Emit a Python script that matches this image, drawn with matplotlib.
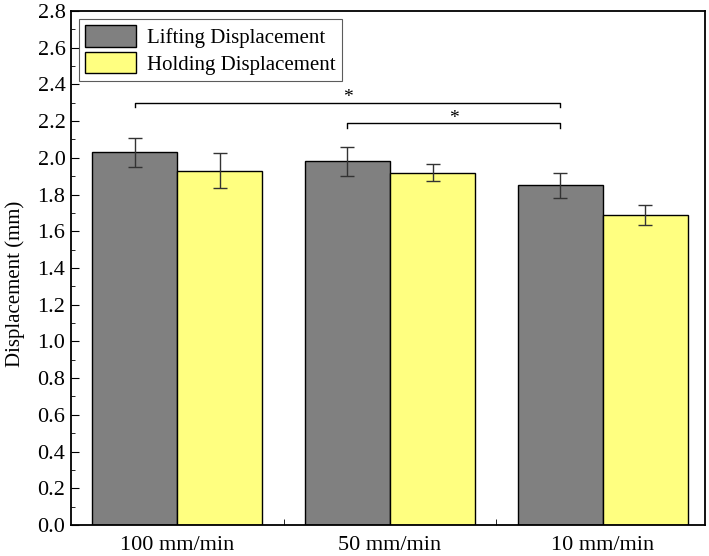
import numpy as np
import matplotlib.pyplot as plt

plt.rcParams['font.family'] = ['Liberation Serif', 'DejaVu Serif']

speeds = ['100 mm/min', '50 mm/min', '10 mm/min']
lifting = [2.03, 1.98, 1.85]
lifting_err = [0.08, 0.08, 0.07]
holding = [1.93, 1.92, 1.69]
holding_err = [0.095, 0.045, 0.055]

x = np.arange(len(speeds))
w = 0.4

fig = plt.figure(figsize=(7.09, 5.56), dpi=100)
ax = fig.add_axes([0.1001, 0.0558, 0.894, 0.9245])

ax.bar(x - w / 2, lifting, w, color='#808080', edgecolor='black', linewidth=1.0,
       yerr=lifting_err, capsize=5, error_kw=dict(ecolor='#333333', elinewidth=1.0, capthick=1.0),
       label='Lifting Displacement')
ax.bar(x + w / 2, holding, w, color='#ffff80', edgecolor='black', linewidth=1.0,
       yerr=holding_err, capsize=5, error_kw=dict(ecolor='#333333', elinewidth=1.0, capthick=1.0),
       label='Holding Displacement')

# significance brackets
def bracket(x1, x2, y, h=0.025):
    ax.plot([x1, x1, x2, x2], [y - h, y, y, y - h], color='black', lw=1.0)
    ax.text((x1 + x2) / 2, y - 0.02, '*', ha='center', va='bottom', fontsize=14)

bracket(x[0] - w / 2, x[2] - w / 2, 2.30)
bracket(x[1] - w / 2, x[2] - w / 2, 2.19)

ax.set_xlim(-0.5, 2.48)
ax.set_ylim(0, 2.8)
ax.set_xticks(x)
ax.set_xticklabels(speeds)
ax.set_xticks([0.5, 1.5], minor=True)
ax.set_yticks(np.arange(0, 2.81, 0.2))
ax.set_yticks(np.arange(0.1, 2.8, 0.2), minor=True)
ax.yaxis.set_major_formatter(plt.FormatStrFormatter('%.1f'))
ax.tick_params(axis='both', which='both', direction='in', labelsize=16)
ax.tick_params(axis='x', which='major', length=0, pad=8)
ax.tick_params(axis='x', which='minor', length=4)
ax.tick_params(axis='y', which='major', length=6, pad=4)
ax.tick_params(axis='y', which='minor', length=3)
for s in ax.spines.values():
    s.set_linewidth(1.3)

ax.set_ylabel('Displacement (mm)', fontsize=15)
ax.yaxis.set_label_coords(-0.072, 0.47)

leg = ax.legend(loc='upper left', fontsize=15, frameon=True, fancybox=False,
                edgecolor='#333333', handlelength=2.45, handleheight=1.2,
                borderpad=0.3, labelspacing=0.2, handletextpad=0.5,
                borderaxespad=0, bbox_to_anchor=(0.0126, 0.9845))
leg.get_frame().set_linewidth(0.8)

fig.savefig('out.png', dpi=100)
